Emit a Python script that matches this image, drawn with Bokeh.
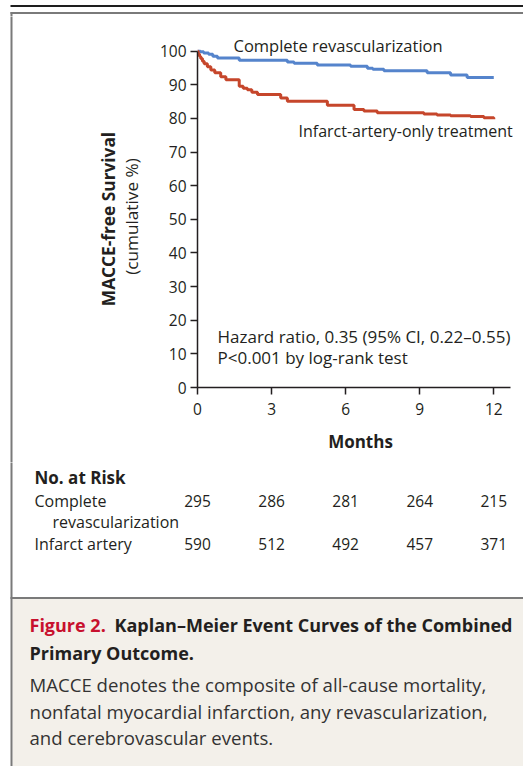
import math
from bokeh.plotting import figure
from bokeh.layouts import column, row
from bokeh.models import Range1d, FixedTicker, Label, LabelSet, ColumnDataSource
from bokeh.core.properties import value
from bokeh.embed import file_html
from bokeh.resources import INLINE

# ---------------- data ----------------
complete_t = [0, 0.12, 0.25, 0.45, 0.62, 0.81, 1.69, 3.64, 3.91, 4.85, 6.2, 6.88, 7.1, 7.55,
              9.3, 10.25, 10.92, 12.0]
complete_s = [100, 99.8, 99.5, 99.1, 98.5, 97.96, 97.3, 96.8, 96.4, 95.9, 95.5, 94.9, 94.6, 94.2,
              93.6, 92.9, 92.2, 92.2]

infarct_t = [0, 0.03, 0.08, 0.13, 0.2, 0.27, 0.4, 0.54, 0.7, 0.94, 1.15, 1.55, 1.69, 1.85, 2.02,
             2.2, 2.43, 3.1, 3.37, 3.64, 4.99, 5.26, 5.93, 6.34, 6.74, 7.28, 8.9, 9.17, 9.7,
             10.25, 11.06, 11.6, 12.0]
infarct_s = [100, 99.2, 98.5, 97.8, 97.0, 96.3, 95.4, 94.4, 93.6, 92.4, 91.5, 91.5, 89.6, 89.0,
             88.5, 87.8, 87.1, 87.1, 86.1, 85.1, 85.1, 83.9, 83.9, 82.7, 82.2, 81.7, 81.7, 81.3,
             81.0, 80.8, 80.6, 80.2, 79.8]

risk_months = [0, 3, 6, 9, 12]
risk_complete = [295, 286, 281, 264, 215]
risk_infarct = [590, 512, 492, 457, 371]

x_ticks = [0, 3, 6, 9, 12]
y_ticks = [0, 10, 20, 30, 40, 50, 60, 70, 80, 90, 100]

# ---------------- geometry (page px) ----------------
W, H = 523, 766
TOP_H = 16            # header strip
ROW_END = 462         # bottom of chart row
LEFT_W = 150          # left strip width
X0_PX, PX_PER_MONTH = 197.0, 24.69
Y0_PX, PX_PER_PCT = 387.0, 3.363
FONT = "Open Sans"
DARK = "#231f20"
GRAY = "#7a7a7a"
CAPBG = "#f3f0ea"


def bare(width, height, xr, yr):
    f = figure(width=width, height=height, output_backend="svg", toolbar_location=None,
               x_range=xr, y_range=yr, x_axis_type=None, y_axis_type=None,
               min_border=0, min_border_left=0, min_border_right=0,
               min_border_top=0, min_border_bottom=0, frame_align=False)
    f.outline_line_color = None
    f.grid.visible = False
    f.background_fill_color = "white"
    f.border_fill_color = "white"
    return f


def label(f, text, x, y, size, style="normal", color=DARK, align="left", angle=0):
    f.add_layout(Label(x=x, y=y, text=text, text_font=FONT, text_font_size=size,
                       text_font_style=style, text_color=color, text_align=align,
                       text_baseline="middle", angle=angle))


# ---- header strip: rules ----
top = bare(W, TOP_H, Range1d(0, W), Range1d(TOP_H, 0))
top.quad(left=[10], right=[W + 5], top=[4.5], bottom=[6.5], fill_color="#1e1e1e", line_color=None)
top.quad(left=[10], right=[W + 5], top=[11.5], bottom=[13.5], fill_color=GRAY, line_color=None)
top.quad(left=[10], right=[12], top=[11.5], bottom=[TOP_H + 1], fill_color=GRAY, line_color=None)

# ---- left strip: y axis title ----
left = bare(LEFT_W, ROW_END - TOP_H, Range1d(0, LEFT_W), Range1d(ROW_END, TOP_H))
left.quad(left=[10], right=[12], top=[TOP_H - 1], bottom=[ROW_END + 1], fill_color=GRAY, line_color=None)
label(left, "MACCE-free Survival", 108, 218.5, "17.3px", style="bold", align="center", angle=math.pi / 2)
label(left, "(cumulative %)", 131, 216, "17.2px", align="center", angle=math.pi / 2)

# ---- chart ----
CW = W - LEFT_W
CH = ROW_END - TOP_H
frame_w = W - X0_PX
frame_h = Y0_PX - TOP_H
p = figure(width=CW, height=CH, output_backend="svg", toolbar_location=None,
           x_range=Range1d(0, frame_w / PX_PER_MONTH), y_range=Range1d(0, frame_h / PX_PER_PCT),
           min_border_left=int(X0_PX - LEFT_W), min_border_right=0, min_border_top=0,
           min_border_bottom=int(ROW_END - Y0_PX), frame_align=False)
p.outline_line_color = None
p.grid.visible = False
p.background_fill_color = "white"
p.border_fill_color = "white"

for ax in (p.xaxis[0], p.yaxis[0]):
    ax.axis_line_color = DARK
    ax.axis_line_width = 1.5
    ax.major_tick_line_color = DARK
    ax.major_tick_line_width = 1.5
    ax.major_tick_out = 7
    ax.major_tick_in = 0
    ax.minor_tick_line_color = None
    ax.major_label_text_font = FONT
    ax.major_label_text_font_size = "15.5px"
    ax.major_label_text_color = DARK

p.xaxis.ticker = FixedTicker(ticks=x_ticks)
p.yaxis.ticker = FixedTicker(ticks=y_ticks)
p.xaxis.bounds = (0, 12.66)
p.yaxis.bounds = (0, 100)
p.yaxis.major_label_standoff = 4
p.xaxis.major_label_standoff = 8
p.xaxis.axis_label = "Months"
p.xaxis.axis_label_text_font = FONT
p.xaxis.axis_label_text_font_style = "bold"
p.xaxis.axis_label_text_font_size = "17px"
p.xaxis.axis_label_text_color = DARK
p.xaxis.axis_label_standoff = 12

p.step(complete_t, complete_s, mode="after", line_color="#5584cc", line_width=3)
p.step(infarct_t, infarct_s, mode="after", line_color="#c6462b", line_width=3)


def ax_(ix):
    return (ix - X0_PX) / PX_PER_MONTH


def ay_(iy):
    return (Y0_PX - iy) / PX_PER_PCT


label(p, "Complete revascularization", ax_(233), ay_(45), "16.5px")
label(p, "Infarct-artery-only treatment", ax_(298), ay_(130), "16px")
label(p, "Hazard ratio, 0.35 (95% CI, 0.22\u20130.55)", ax_(217), ay_(336), "17px")
label(p, "P<0.001 by log-rank test", ax_(217), ay_(357), "17px")

# ---- bottom: number at risk + caption ----
bh = H - ROW_END
bot = bare(W, bh, Range1d(ax_(0), ax_(W)), Range1d(H, ROW_END))
bot.quad(left=[ax_(12)], right=[ax_(W + 5)], top=[598.5], bottom=[H + 2], fill_color=CAPBG, line_color=None)
bot.quad(left=[ax_(10)], right=[ax_(W + 5)], top=[596.5], bottom=[598.5], fill_color=GRAY, line_color=None)
bot.quad(left=[ax_(10)], right=[ax_(12)], top=[ROW_END - 1], bottom=[H + 2], fill_color=GRAY, line_color=None)

label(bot, "No. at Risk", ax_(34), 476.5, "17px", style="bold")
label(bot, "Complete", ax_(34), 500, "16px")
label(bot, "revascularization", ax_(52), 521.5, "16px")
label(bot, "Infarct artery", ax_(34), 543, "16px")
src_c = ColumnDataSource(dict(x=risk_months, y=[500] * 5, t=[str(v) for v in risk_complete]))
src_i = ColumnDataSource(dict(x=risk_months, y=[543] * 5, t=[str(v) for v in risk_infarct]))
for s in (src_c, src_i):
    bot.add_layout(LabelSet(x="x", y="y", text="t", source=s, text_font=value(FONT),
                            text_font_size=value("15.5px"), text_color=DARK, text_align="center",
                            text_baseline="middle"))

label(bot, "Figure 2.", ax_(29), 624, "18px", style="bold", color="#c8102e")
label(bot, "Kaplan\u2013Meier Event Curves of the Combined", ax_(114), 624, "18px", style="bold")
label(bot, "Primary Outcome.", ax_(29), 652, "18px", style="bold")
label(bot, "MACCE denotes the composite of all-cause mortality,", ax_(29), 684, "18.6px", color="#333333")
label(bot, "nonfatal myocardial infarction, any revascularization,", ax_(29), 711, "18.6px", color="#333333")
label(bot, "and cerebrovascular events.", ax_(29), 737, "18.6px", color="#333333")

layout = column(top, row(left, p), bot)
open("out.html", "w").write(file_html(layout, INLINE))
